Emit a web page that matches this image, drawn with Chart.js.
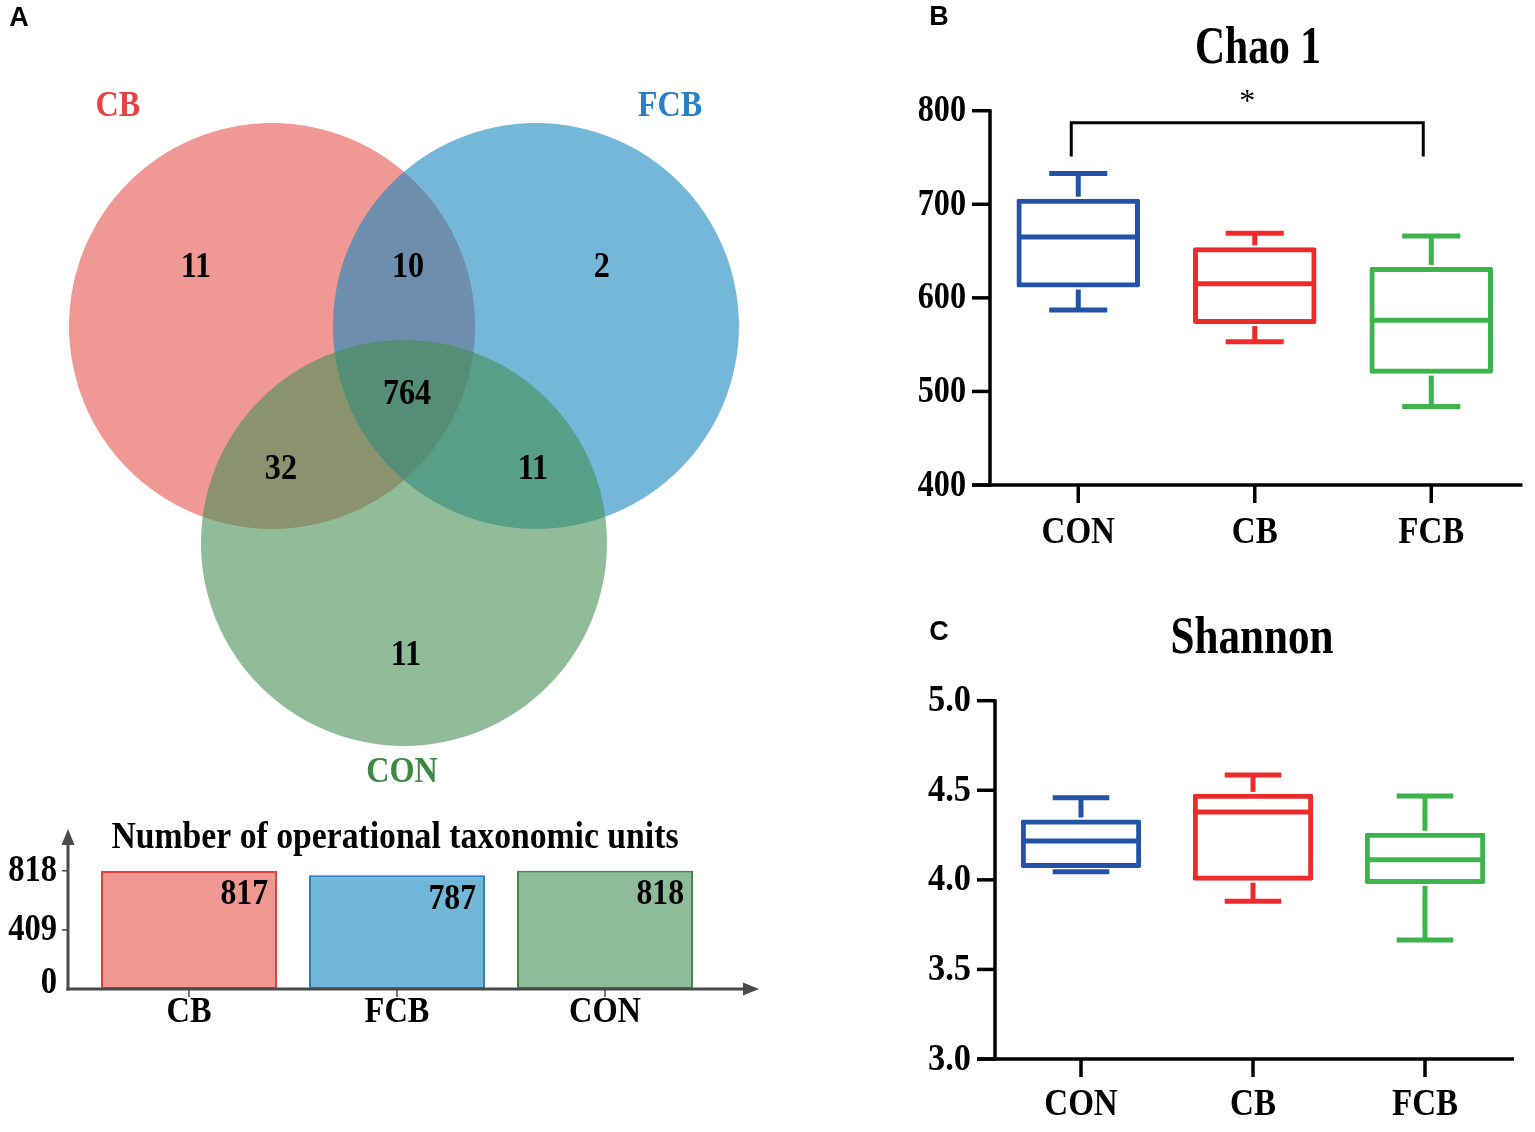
<!DOCTYPE html>
<html>
<head>
<meta charset="utf-8">
<script src="https://cdn.jsdelivr.net/npm/chart.js@4.4.1/dist/chart.umd.min.js"></script>
<style>
  html, body { margin: 0; background: #fff; }
  #page { position: relative; width: 1535px; height: 1132px; overflow: hidden; }
  canvas { position: absolute; }
</style>
</head>
<body>
<div id="page">
  <canvas id="venn" width="770" height="800" style="left:0;top:0"></canvas>
  <canvas id="otu" width="770" height="240" style="left:0;top:800px"></canvas>
  <canvas id="chao" width="635" height="580" style="left:900px;top:0"></canvas>
  <canvas id="shannon" width="635" height="532" style="left:900px;top:600px"></canvas>
</div>
<script>
/* ── DATA ─────────────────────────────────────────────── */
const vennSets   = ['CB', 'FCB', 'CON'];
// CB only, CB∩FCB, FCB only, all three, CB∩CON, FCB∩CON, CON only
const vennCounts = [11, 10, 2, 764, 32, 11, 11];

const otuGroups = ['CB', 'FCB', 'CON'];
const otuCounts = [817, 787, 818];
const otuTicks  = [0, 409, 818];

const groups = ['CON', 'CB', 'FCB'];

const chaoMin = [587, 553, 484];
const chaoQ1  = [611, 572, 519];
const chaoMed = [665, 615, 576];
const chaoQ3  = [706, 654, 633];
const chaoMax = [733, 669, 666];
const chaoTicks = [400, 500, 600, 700, 800];

const shanMin = [4.045, 3.88, 3.664];
const shanQ1  = [4.066, 3.995, 3.977];
const shanMed = [4.217, 4.379, 4.112];
const shanQ3  = [4.337, 4.48, 4.263];
const shanMax = [4.458, 4.585, 4.468];
const shanTicks = [3.0, 3.5, 4.0, 4.5, 5.0];

/* ── THEME ────────────────────────────────────────────── */
const SERIF = '"Liberation Serif", "Times New Roman", serif';
const SANS  = '"Liberation Sans", Arial, sans-serif';
const BOX_COLORS = ['#2352a6', '#ee2b2b', '#3cb44b'];
const OTU_FILL = ['#f19893', '#72b6d9', '#8fbc98'];
const OTU_LINE = ['#e8403a', '#2a7ec2', '#3c8a46'];

// venn geometry, in units of one circle radius
const VENN = {
  r: 1,
  centers: [[-0.65, 0.355], [0.65, 0.355], [0, -0.714]],
  fills: ['rgba(230,83,77,0.6)', 'rgba(23,135,192,0.6)', 'rgba(70,143,83,0.6)'],
  labelPos: [[-1.409, 1.433], [1.31, 1.433], [-0.01, -1.847]],
  labelColors: ['#e8433e', '#2a80c4', '#3e8a45'],
  regionPos: [[-1.025, 0.64], [0.02, 0.64], [0.975, 0.64], [0.015, 0.015],
              [-0.606, -0.355], [0.635, -0.355], [0.01, -1.271]]
};

/* ── HELPERS ──────────────────────────────────────────── */
function el(id) { return document.getElementById(id); }

// text is slightly condensed in the original figure, sx squeezes it horizontally
function txt(ctx, s, x, y, size, o = {}) {
  const sx = o.sx || 1;
  ctx.save();
  ctx.translate(x, y);
  ctx.scale(sx, 1);
  ctx.font = (o.weight || 'bold') + ' ' + size + 'px ' + (o.family || SERIF);
  ctx.fillStyle = o.color || '#000';
  ctx.textAlign = o.align || 'center';
  ctx.textBaseline = 'middle';
  if (o.maxWidth) ctx.fillText(s, 0, 0, o.maxWidth / sx);
  else ctx.fillText(s, 0, 0);
  ctx.restore();
}

function seg(ctx, x1, y1, x2, y2) {
  ctx.beginPath();
  ctx.moveTo(x1, y1);
  ctx.lineTo(x2, y2);
  ctx.stroke();
}

const quiet = {
  responsive: false,
  animation: false,
  events: [],
  plugins: { legend: { display: false }, tooltip: { enabled: false } }
};

/* ══════════════════════════════════════════════════════
   A. VENN DIAGRAM
══════════════════════════════════════════════════════ */
const vennDraw = {
  id: 'vennDraw',
  beforeDatasetsDraw(chart) {
    const { ctx, scales: { x, y } } = chart;
    const rad = x.getPixelForValue(VENN.r) - x.getPixelForValue(0);
    ctx.save();
    vennSets.forEach((s, i) => {
      ctx.fillStyle = VENN.fills[i];
      ctx.beginPath();
      ctx.arc(x.getPixelForValue(VENN.centers[i][0]), y.getPixelForValue(VENN.centers[i][1]), rad, 0, Math.PI * 2);
      ctx.fill();
    });
    ctx.restore();
  },
  afterDatasetsDraw(chart) {
    const { ctx, scales: { x, y } } = chart;
    vennCounts.forEach((v, i) => {
      const p = VENN.regionPos[i];
      txt(ctx, String(v), x.getPixelForValue(p[0]), y.getPixelForValue(p[1]), 35, { sx: 0.92 });
    });
    vennSets.forEach((s, i) => {
      const p = VENN.labelPos[i];
      txt(ctx, s, x.getPixelForValue(p[0]), y.getPixelForValue(p[1]), 35, { sx: 0.92, color: VENN.labelColors[i] });
    });
    txt(ctx, 'A', 19, 19, 27, { family: SANS });
  }
};

new Chart(el('venn'), {
  type: 'scatter',
  data: {
    datasets: [{
      data: VENN.centers.map(c => ({ x: c[0], y: c[1] })),
      pointRadius: 0
    }]
  },
  options: {
    ...quiet,
    layout: { padding: 0 },
    scales: {
      x: { type: 'linear', display: false, min: -1.990, max: 1.803 },
      y: { type: 'linear', display: false, min: -1.980, max: 1.961 }
    }
  },
  plugins: [vennDraw]
});

/* ══════════════════════════════════════════════════════
   A. OTU COUNT BARS
══════════════════════════════════════════════════════ */
const otuAxes = {
  id: 'otuAxes',
  afterDatasetsDraw(chart) {
    const { ctx, chartArea: a, scales: { x, y } } = chart;
    const ax = a.left - 17, y0 = y.getPixelForValue(0);
    ctx.save();
    ctx.strokeStyle = '#4a4a4a';
    ctx.fillStyle = '#4a4a4a';
    ctx.lineWidth = 3;
    seg(ctx, ax, y0 + 1.5, ax, 42);
    seg(ctx, ax - 1.5, y0, 746, y0);
    ctx.beginPath(); ctx.moveTo(ax, 29); ctx.lineTo(ax - 6.5, 45); ctx.lineTo(ax + 6.5, 45); ctx.closePath(); ctx.fill();
    ctx.beginPath(); ctx.moveTo(759, y0); ctx.lineTo(743, y0 - 6.5); ctx.lineTo(743, y0 + 6.5); ctx.closePath(); ctx.fill();
    ctx.lineWidth = 1.5;
    otuTicks.forEach(t => {
      const py = y.getPixelForValue(t);
      if (t) seg(ctx, ax - 6, py, ax, py);
      txt(ctx, String(t), ax - 11, t ? py + 1 : py - 6, 37, { align: 'right', sx: 0.88 });
    });
    otuGroups.forEach((g, i) => {
      const px = x.getPixelForValue(i);
      seg(ctx, px, y0, px, y0 + 8);
      txt(ctx, g, px, y0 + 24, 36, { sx: 0.9 });
    });
    ctx.restore();
    chart.getDatasetMeta(0).data.forEach((bar, i) => {
      txt(ctx, String(otuCounts[i]), bar.x + bar.width / 2 - 9, bar.y + 24, 36, { align: 'right', sx: 0.88 });
    });
    txt(ctx, 'Number of operational taxonomic units', 395, 38, 38, { maxWidth: 567 });
  }
};

new Chart(el('otu'), {
  type: 'bar',
  data: {
    labels: otuGroups,
    datasets: [{
      data: otuCounts,
      backgroundColor: OTU_FILL,
      borderColor: OTU_LINE,
      borderWidth: 2,
      borderSkipped: false,
      barPercentage: 0.846,
      categoryPercentage: 1
    }]
  },
  options: {
    ...quiet,
    layout: { padding: { left: 85, right: 61, top: 30, bottom: 51 } },
    scales: {
      x: { display: false },
      y: { display: false, min: 0, max: 1100 }
    }
  },
  plugins: [otuAxes]
});

/* ══════════════════════════════════════════════════════
   B / C. BOX PLOTS
══════════════════════════════════════════════════════ */
function boxPlugin(o) {
  return {
    id: 'box_' + o.letter,
    afterDatasetsDraw(chart) {
      const { ctx, chartArea: a, scales: { x, y } } = chart;
      const py = v => y.getPixelForValue(v);
      ctx.save();
      ctx.lineWidth = 5;
      chart.getDatasetMeta(0).data.forEach((bar, i) => {
        const cx = bar.x, hw = bar.width / 2 - 1, cap = bar.width * 0.235;
        ctx.strokeStyle = BOX_COLORS[i];
        seg(ctx, cx - hw, py(o.med[i]), cx + hw, py(o.med[i]));
        seg(ctx, cx, py(o.q3[i]) - 2, cx, py(o.max[i]));
        seg(ctx, cx - cap, py(o.max[i]), cx + cap, py(o.max[i]));
        seg(ctx, cx, py(o.q1[i]) + 2, cx, py(o.min[i]));
        seg(ctx, cx - cap, py(o.min[i]), cx + cap, py(o.min[i]));
      });

      // axes
      const top = py(o.ticks[o.ticks.length - 1]), bot = a.bottom;
      ctx.strokeStyle = '#000';
      ctx.lineWidth = 3.5;
      seg(ctx, a.left, top - 1.5, a.left, bot + 1.75);
      seg(ctx, a.left - 18, bot, a.right + 3, bot);
      o.ticks.forEach(t => {
        seg(ctx, a.left - 18, py(t), a.left, py(t));
        txt(ctx, o.fmt(t), a.left - 24, py(t) + 1, 37, { align: 'right', sx: o.tickSx });
      });
      groups.forEach((g, i) => {
        const cx = x.getPixelForValue(i);
        seg(ctx, cx, bot, cx, bot + 18);
        txt(ctx, g, cx, bot + o.labelGap, 38, { sx: 0.87 });
      });

      // significance bracket
      if (o.bracket) {
        const b = o.bracket;
        const x1 = x.getPixelForValue(b.from) - 7, x2 = x.getPixelForValue(b.to) - 8;
        ctx.lineWidth = 3;
        ctx.beginPath();
        ctx.moveTo(x1, py(b.low));
        ctx.lineTo(x1, py(b.high));
        ctx.lineTo(x2, py(b.high));
        ctx.lineTo(x2, py(b.low));
        ctx.stroke();
        txt(ctx, b.mark, (x1 + x2) / 2, py(b.high) - 20, 32, { weight: 'normal' });
      }
      ctx.restore();

      txt(ctx, o.title, o.titleX, o.titleY, 52, { maxWidth: o.titleW });
      txt(ctx, o.letter, 39, o.letterY, 27, { family: SANS });
    }
  };
}

function boxChart(id, o) {
  return new Chart(el(id), {
    type: 'bar',
    data: {
      labels: groups,
      datasets: [{
        data: o.q1.map((v, i) => [v, o.q3[i]]),
        backgroundColor: 'rgba(0,0,0,0)',
        borderColor: BOX_COLORS,
        borderWidth: 5,
        borderSkipped: false,
        borderRadius: 2,
        barPercentage: 0.7,
        categoryPercentage: 1
      }]
    },
    options: {
      ...quiet,
      layout: { padding: o.pad },
      scales: {
        x: { display: false },
        y: { display: false, min: o.ticks[0], max: o.ticks[o.ticks.length - 1] }
      }
    },
    plugins: [boxPlugin(o)]
  });
}

boxChart('chao', {
  min: chaoMin, q1: chaoQ1, med: chaoMed, q3: chaoQ3, max: chaoMax,
  ticks: chaoTicks, fmt: t => String(t), tickSx: 0.87,
  pad: { left: 90, right: 15.5, top: 110.7, bottom: 95 },
  labelGap: 48,
  title: 'Chao 1', titleX: 358, titleY: 50, titleW: 126,
  letter: 'B', letterY: 18,
  bracket: { from: 0, to: 2, high: 787, low: 751, mark: '*' }
});

boxChart('shannon', {
  min: shanMin, q1: shanQ1, med: shanMed, q3: shanQ3, max: shanMax,
  ticks: shanTicks, fmt: t => t.toFixed(1), tickSx: 0.93,
  pad: { left: 95, right: 24, top: 100.7, bottom: 73 },
  labelGap: 46,
  title: 'Shannon', titleX: 352, titleY: 40, titleW: 163,
  letter: 'C', letterY: 33
});
</script>
</body>
</html>
